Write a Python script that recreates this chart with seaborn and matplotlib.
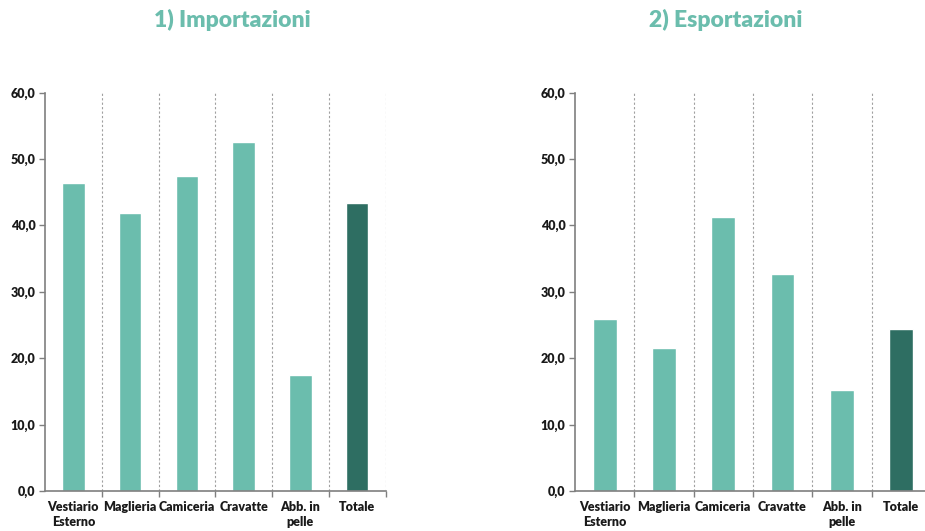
import matplotlib
matplotlib.use("Agg")
import matplotlib.pyplot as plt
import seaborn as sns
import pandas as pd
from matplotlib.ticker import FixedLocator

categories = ["Vestiario\nEsterno", "Maglieria", "Camiceria", "Cravatte", "Abb. in\npelle", "Totale"]
importazioni = [46.3, 41.8, 47.5, 52.5, 17.4, 43.4]
esportazioni = [25.9, 21.5, 41.3, 32.6, 15.2, 24.4]
titles = ["1) Importazioni", "2) Esportazioni"]
yticks = [0, 10, 20, 30, 40, 50, 60]
ytick_labels = ["0,0", "10,0", "20,0", "30,0", "40,0", "50,0", "60,0"]

light = "#6BBDAD"
dark = "#2E6E62"
kinds = ["cat", "cat", "cat", "cat", "cat", "tot"]

sns.set_theme(style="white")
plt.rcParams["font.family"] = ["Lato", "DejaVu Sans"]

fig = plt.figure(figsize=(9.25, 5.31), dpi=100)
ax1 = fig.add_axes([45/925, 40/531, 340.5/925, 398.5/531])
ax2 = fig.add_axes([575/925, 40/531, 355.8/925, 398.5/531])

for ax, vals, title, tx in [(ax1, importazioni, titles[0], 232/925), (ax2, esportazioni, titles[1], 726/925)]:
    df = pd.DataFrame({"cat": categories, "val": vals, "kind": kinds})
    sns.barplot(data=df, x="cat", y="val", hue="kind", palette={"cat": light, "tot": dark},
                width=0.4, dodge=False, legend=False, ax=ax, saturation=1)
    ax.set_xlim(-0.5, 5.5)
    ax.set_ylim(0, 60)
    ax.set_yticks(yticks)
    ax.set_yticklabels(ytick_labels, fontsize=9, fontweight="heavy", color="#1a1a1a")
    ax.set_xlabel("")
    ax.set_ylabel("")
    ax.tick_params(axis="x", which="major", length=0, labelsize=9, pad=7)
    for lab in ax.get_xticklabels():
        lab.set_fontweight("heavy")
        lab.set_color("#1a1a1a")
        lab.set_linespacing(1.3)
    ax.xaxis.set_minor_locator(FixedLocator([0.5, 1.5, 2.5, 3.5, 4.5, 5.5]))
    ax.tick_params(axis="x", which="minor", bottom=True, length=4, width=1, color="#7f7f7f", direction="out")
    ax.tick_params(axis="y", left=True, length=4, width=1, color="#7f7f7f", direction="out", pad=3)
    ax.grid(axis="x", which="minor", linestyle=(0, (2, 2)), color="#a0a0a0", linewidth=0.8)
    ax.grid(axis="y", visible=False)
    ax.grid(axis="x", which="major", visible=False)
    for s in ["top", "right"]:
        ax.spines[s].set_visible(False)
    for s in ["left", "bottom"]:
        ax.spines[s].set_color("#7f7f7f")
        ax.spines[s].set_linewidth(1.2)
    fig.text(tx, 1 - 20/531, title, ha="center", va="center", fontsize=16.5,
             fontweight="heavy", color=light)

fig.savefig("out.png", dpi=100)
